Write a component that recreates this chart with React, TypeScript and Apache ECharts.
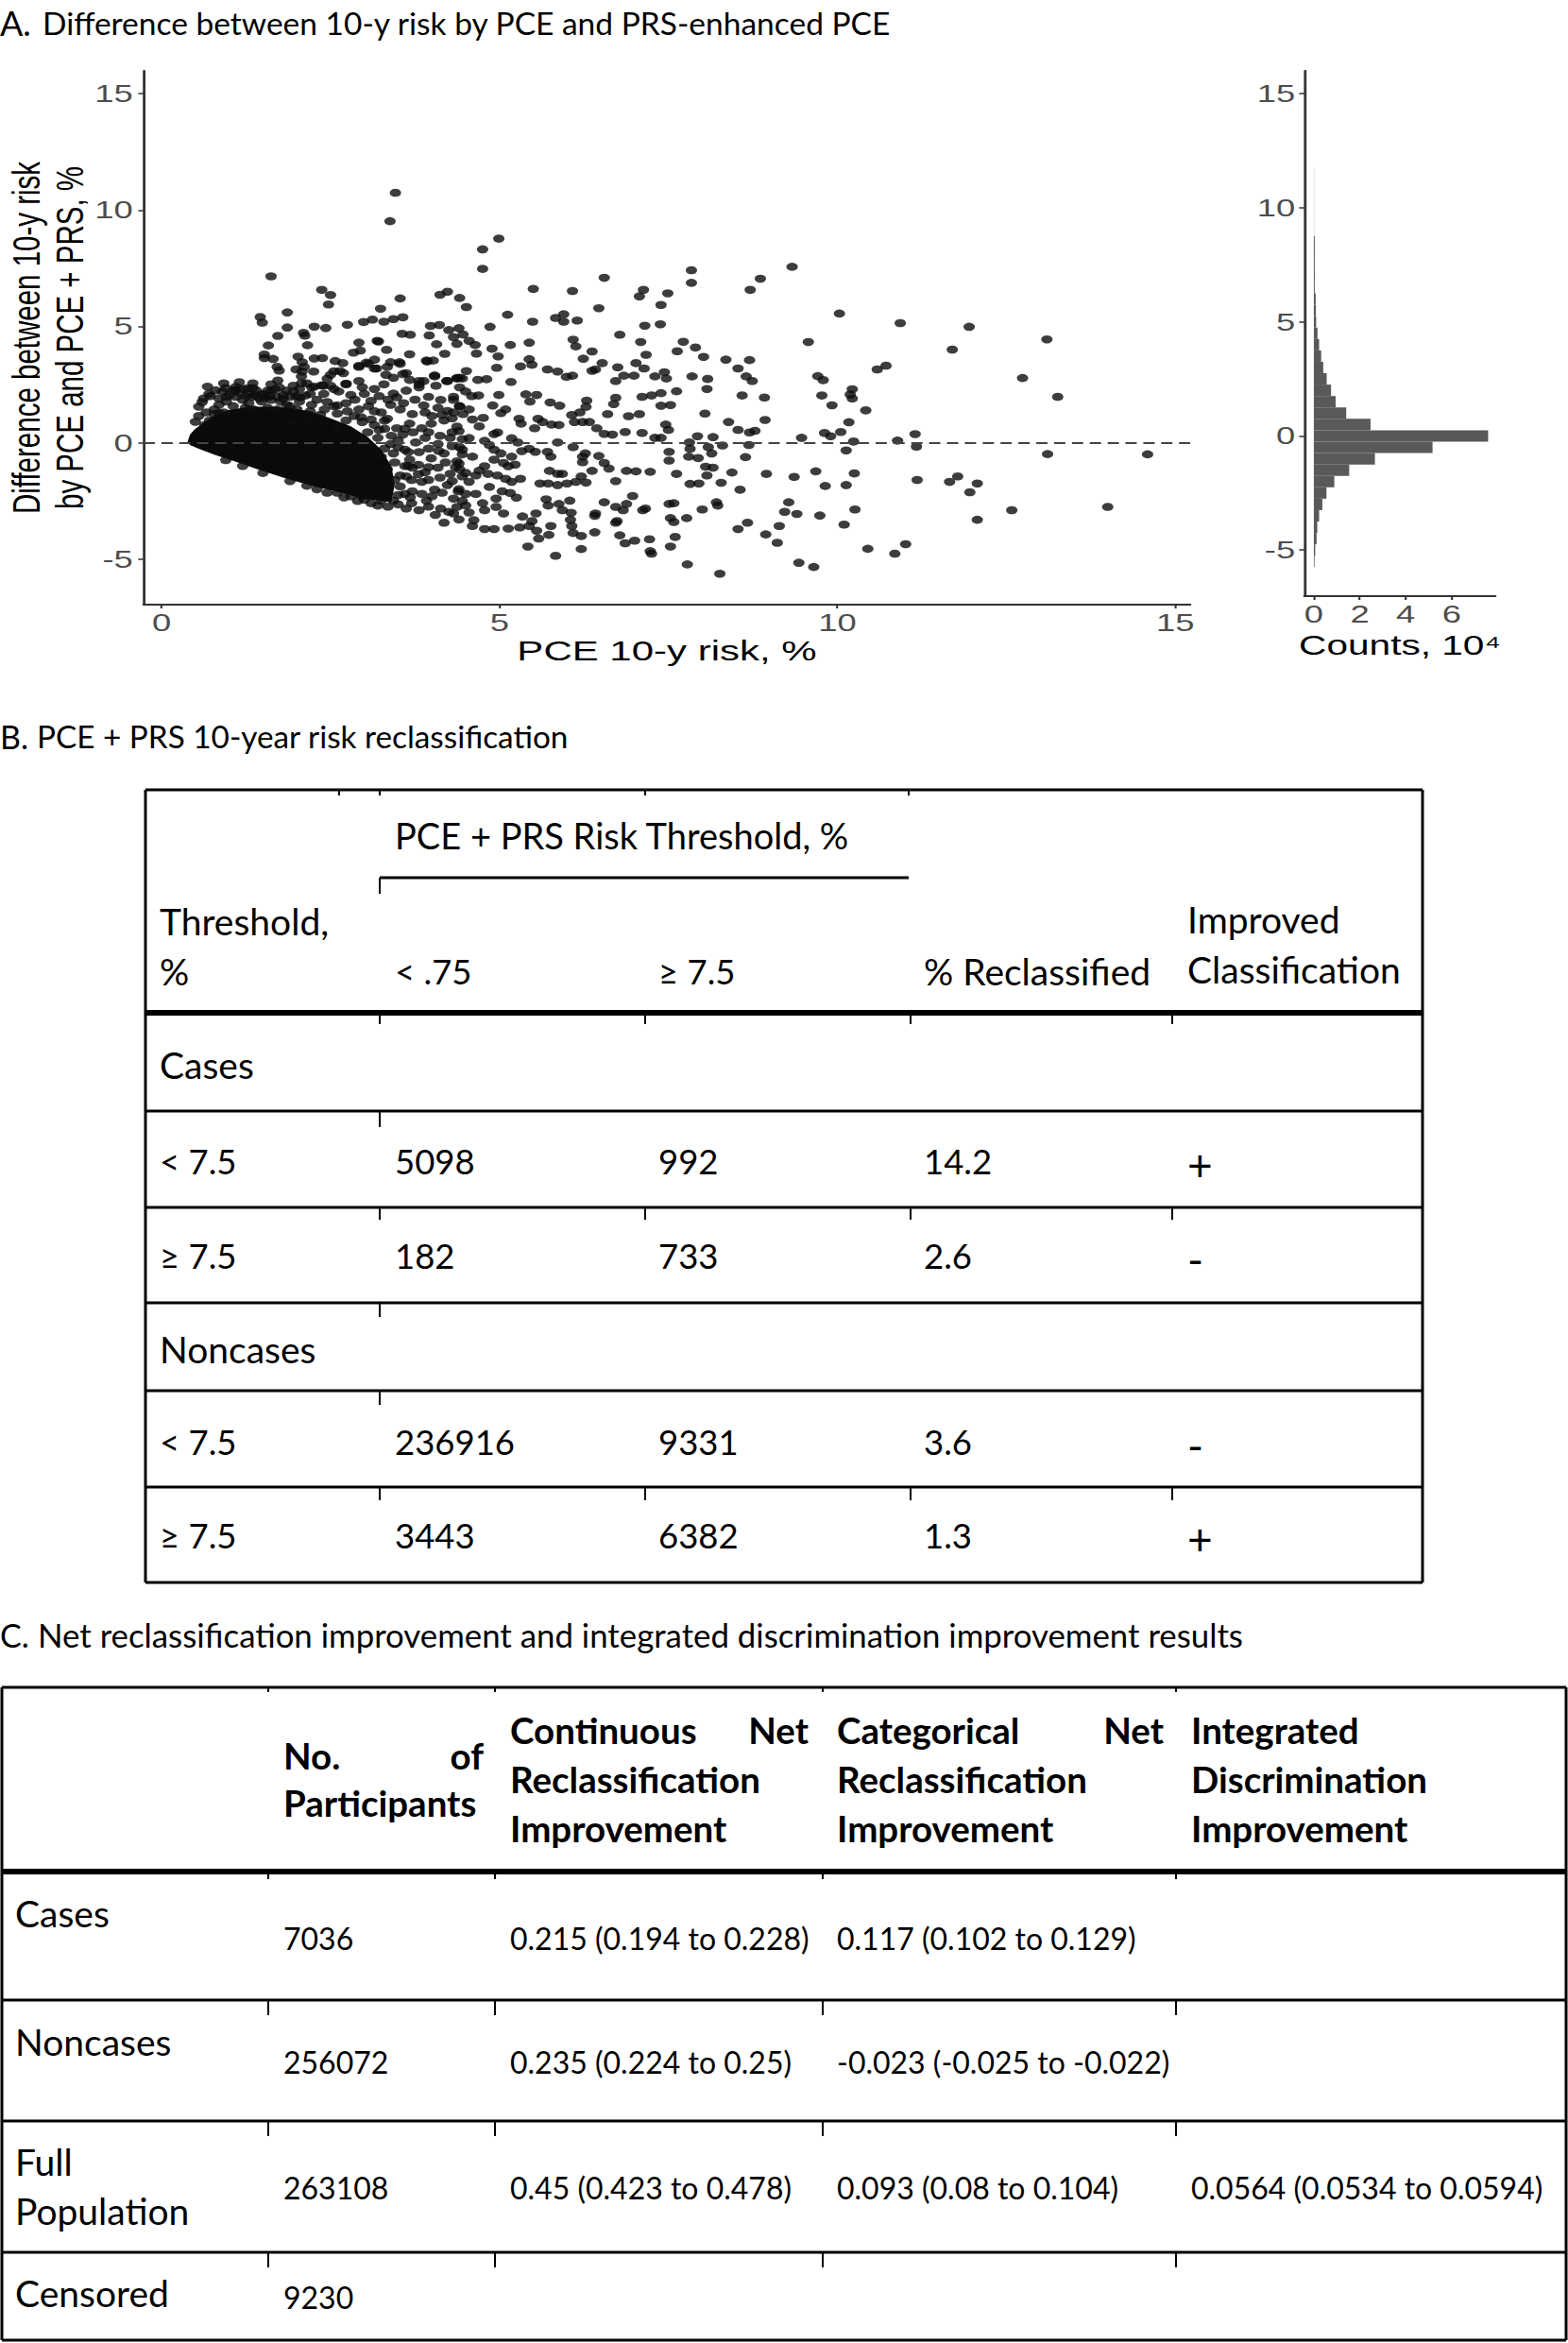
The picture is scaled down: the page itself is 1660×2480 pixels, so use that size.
import React, { useEffect, useRef } from "react";
import * as echarts from "echarts";

// ---------------- Panel A data ----------------
const scatterXTicks = [0, 5, 10, 15];
const scatterYTicks = [-5, 0, 5, 10, 15];
const histXTicks = [0, 2, 4, 6];
const histYTicks = [-5, 0, 5, 10, 15];

// outline of the saturated (fully overlapping) point cloud near the origin
const denseCoreOutline: number[][] = [
  [0.38, 0.0], [0.42, 0.35], [0.5, 0.6], [0.64, 0.9], [0.8, 1.2], [1.0, 1.4], [1.3, 1.55], [1.6, 1.55],
  [1.9, 1.5], [2.2, 1.35], [2.5, 1.05], [2.8, 0.7], [3.05, 0.25], [3.25, -0.3], [3.4, -1.0], [3.45, -1.8],
  [3.4, -2.55], [3.0, -2.42], [2.5, -2.04], [2.27, -1.9], [1.8, -1.5], [1.4, -1.12], [1.1, -0.82], [0.8, -0.53],
  [0.55, -0.26], [0.42, -0.1],
];

const scatterPoints: number[][] = [
  // left part
  [3.46, 10.74], [3.38, 9.52], [1.62, 7.15], [2.37, 6.57], [2.5, 6.35], [2.47, 5.94], [3.53, 6.2], [3.24, 5.76],
  [1.46, 5.4], [1.49, 5.16], [1.86, 5.6], [1.86, 4.95], [1.72, 4.59], [2.26, 4.99], [2.43, 4.93], [2.1, 4.72],
  [2.12, 4.6], [2.16, 4.19], [1.58, 4.18], [2.75, 5.07], [2.99, 5.19], [3.12, 5.29], [3.29, 5.2], [3.43, 5.31],
  [3.57, 5.39], [4.12, 6.36], [4.23, 6.49], [4.41, 6.22], [3.98, 5.02], [4.11, 5.06], [3.56, 4.68], [3.68, 4.64],
  [2.92, 4.3], [3.19, 4.38], [3.21, 4.35], [3.96, 4.61], [4.07, 4.23], [4.25, 4.84], [4.32, 4.54], [4.37, 4.25],
  [1.52, 3.79], [1.52, 3.64], [1.65, 3.6], [1.71, 3.26], [1.74, 3.1], [2.02, 3.7], [2.08, 3.46], [2.11, 3.26],
  [2.26, 3.62], [2.38, 3.64], [2.84, 3.87], [2.94, 3.96], [3.33, 3.99], [3.67, 3.8], [4.19, 3.82], [3.93, 3.49],
  [4.02, 3.53], [2.57, 3.51], [2.68, 3.42], [2.55, 3.07], [2.64, 3.08], [2.92, 3.3], [3.03, 3.44], [3.15, 3.57],
  [3.39, 3.46], [3.52, 3.46], [4.04, 2.89], [4.22, 2.65], [4.37, 2.76], [4.06, 2.45], [2.07, 2.85], [2.07, 2.56],
  [1.72, 2.67], [2.26, 2.41], [2.37, 2.47], [0.68, 2.41], [1.1, 2.27], [1.27, 2.34], [0.85, 1.9], [0.96, 1.97],
  [1.38, 2.04], [1.5, 2.07], [0.78, 1.23], [0.85, 1.27], [1.62, 2.22], [1.74, 2.38], [1.99, 2.0], [2.13, 2.03],
  [2.5, 2.45], [2.73, 2.54], [2.92, 2.65], [3.15, 3.19], [3.32, 2.92], [3.43, 2.79], [3.57, 2.95], [3.67, 2.7],
  [3.81, 2.51], [3.88, 2.65],
  // band just above the saturated cloud
  [0.78, 1.43], [0.85, 1.63], [0.96, 1.77], [1.06, 1.57], [1.1, 1.97], [1.2, 1.84], [1.24, 1.5], [1.29, 1.7],
  [1.34, 1.97], [1.36, 1.43], [1.48, 1.77], [1.48, 2.07], [1.57, 1.5], [1.62, 1.84], [1.71, 1.97], [1.71, 1.43],
  [1.76, 1.77], [1.85, 1.63], [1.85, 2.24], [0.64, 0.76], [0.71, 0.96], [0.92, 1.3], [1.06, 2.24], [1.2, 2.31],
  [1.29, 2.11], [1.57, 2.24], [1.62, 2.51], [1.9, 1.97],
  [0.62, 1.9], [0.7, 2.1], [0.9, 2.2], [1.0, 2.05], [1.15, 2.15], [1.4, 2.25], [1.55, 1.95], [1.8, 2.05],
  [2.0, 1.45], [2.2, 1.35], [2.35, 1.2], [2.6, 1.25], [2.85, 1.15], [3.1, 1.0], [3.3, 0.6], [3.5, 0.1],
  [3.6, -0.3], [3.65, -1.0], [3.7, -1.6], [3.6, -2.2],
  [0.55, 1.55], [0.6, 1.75], [0.72, 2.0], [0.8, 2.25], [0.95, 2.35], [1.1, 2.4], [1.25, 2.0], [1.35, 2.35],
  [1.45, 1.9], [1.6, 2.0], [1.68, 2.3], [1.8, 1.9], [1.95, 2.2], [2.05, 1.95], [2.2, 2.1], [2.3, 1.85],
  [2.45, 1.75], [2.6, 1.6], [2.75, 1.35], [2.95, 1.1], [3.15, 1.35], [3.3, 0.95], [2.4, 2.1], [2.15, 2.55],
  [1.95, 2.45], [1.35, 2.55], [0.92, 2.55], [1.15, 2.6], [0.5, 0.9], [0.55, 1.15], [0.66, 1.3],
  // semi-dense region 2 - 4.5
  [1.99, 3.15], [2.08, 3.06], [2.25, 3.06], [2.5, 2.92], [2.69, 2.99], [2.92, 3.26], [3.06, 3.39], [3.18, 3.19],
  [3.34, 3.26], [3.53, 3.39], [3.62, 2.99], [3.81, 2.65], [3.92, 3.53], [4.04, 2.85], [4.23, 2.65], [4.41, 2.79],
  [2.04, 2.31], [2.22, 2.38], [2.39, 2.45], [2.55, 2.31], [2.73, 2.51], [2.97, 2.38], [3.15, 2.31], [3.29, 2.51],
  [3.43, 2.11], [3.62, 2.24], [3.81, 2.38], [3.95, 1.97], [4.13, 1.84], [4.32, 1.97],
  [1.9, 1.57], [2.04, 1.77], [2.22, 1.63], [2.41, 1.43], [2.55, 1.57], [2.73, 1.7], [2.92, 1.43], [3.06, 1.57],
  [3.25, 1.3], [3.39, 1.63], [3.53, 1.43], [3.71, 1.23], [3.9, 1.3], [4.09, 1.5], [4.23, 1.36], [4.41, 1.57],
  [1.94, 0.89], [2.13, 1.03], [2.36, 0.76], [2.59, 0.62], [2.73, 0.96], [2.97, 0.89], [3.15, 0.76], [3.34, 1.03],
  [3.48, 0.62], [3.67, 0.82], [3.85, 0.62], [3.99, 0.82], [4.18, 0.96], [4.37, 0.69],
  [2.97, 0.08], [3.2, 0.21], [3.39, -0.06], [3.57, 0.35], [3.76, 0.01], [3.9, 0.21], [4.09, -0.06], [4.27, 0.21],
  [4.41, -0.19], [3.25, -0.6], [3.43, -0.46], [3.67, -0.73], [3.81, -0.4], [3.99, -0.67], [4.18, -0.46], [4.37, -0.8],
  [3.34, -1.14], [3.53, -1.41], [3.71, -1.07], [3.9, -1.27], [4.09, -1.07], [4.27, -1.34], [4.41, -1.14],
  [3.53, -1.88], [3.71, -2.09], [3.85, -1.68], [4.04, -2.02], [4.23, -1.82], [4.39, -2.09],
  [2.97, -2.29], [3.25, -2.49], [3.43, -2.49], [3.62, -2.83], [3.81, -2.9], [3.92, -2.49], [4.13, -2.83],
  [4.25, -2.97], [4.37, -2.76], [4.18, -3.44], [4.32, -3.04],
  [2.6, -2.15], [2.8, -2.3], [3.0, -2.45], [3.1, -2.6], [2.3, -2.0],
  [2.45, 2.75], [2.62, 2.2], [2.8, 2.05], [2.86, 1.85], [3.0, 2.1], [3.1, 1.8], [3.22, 2.0], [3.35, 1.85],
  [3.48, 1.95], [3.58, 1.7], [3.75, 1.85], [3.88, 1.6], [4.0, 1.15], [4.15, 1.2], [4.3, 1.05],
  [3.05, 0.45], [3.22, 0.55], [3.4, 0.3], [3.6, 0.6], [3.72, 0.45], [3.95, 0.45], [4.12, 0.3], [4.3, 0.45],
  [4.45, 0.15], [3.3, -0.25], [3.5, -0.2], [3.65, -0.4], [3.95, -0.25], [4.1, -0.35], [4.3, -0.15], [4.45, -0.5],
  [3.45, -0.85], [3.6, -1.0], [3.8, -0.95], [3.95, -1.05], [4.2, -0.85], [4.35, -1.05],
  [3.45, -1.6], [3.62, -1.45], [3.8, -1.35], [3.95, -1.6], [4.12, -1.5], [4.3, -1.65], [4.45, -1.45],
  [3.5, -2.25], [3.68, -2.35], [3.85, -2.2], [4.0, -2.3], [4.15, -2.15], [4.32, -2.4], [4.5, -2.2],
  [3.7, -2.6], [3.95, -2.75], [4.05, -3.1], [4.4, -3.3], [4.5, -2.7],
  [1.5, -1.3], [1.9, -1.65], [2.15, -1.85], [2.45, -2.15], [2.7, -2.35], [2.9, -2.5], [1.2, -1.0], [0.95, -0.75],
  [3.2, -2.7], [3.35, -2.75], [3.5, -2.65],
  // middle part
  [4.99, 8.77], [4.75, 8.31], [4.75, 7.47], [6.55, 7.09], [7.84, 7.41], [7.84, 6.87], [8.86, 7.05], [8.71, 6.57],
  [5.5, 6.61], [6.08, 6.52], [7.13, 6.57], [7.07, 6.29], [7.49, 6.42], [7.39, 5.92], [4.51, 5.83], [5.12, 5.5],
  [6.47, 5.78], [5.83, 5.36], [5.95, 5.52], [5.95, 5.2], [6.15, 5.25], [5.49, 5.2], [4.86, 4.98], [7.15, 5.03],
  [7.38, 5.09], [4.4, 4.92], [6.78, 4.64], [6.09, 4.43], [6.13, 4.14], [7.09, 4.33], [7.72, 4.34], [7.63, 3.93],
  [7.9, 4.09], [8.02, 3.69], [8.35, 3.57], [8.7, 3.55], [4.46, 4.65], [4.55, 4.38], [4.64, 4.2], [4.89, 4.04],
  [4.98, 3.71], [5.16, 4.2], [5.44, 4.3], [4.66, 3.83], [6.24, 3.61], [6.37, 3.92], [6.52, 3.42], [7.17, 3.78],
  [7.02, 3.42], [7.14, 3.19], [6.75, 3.24], [6.37, 3.09], [6.42, 3.15], [5.31, 3.28], [5.44, 3.59], [5.48, 3.35],
  [5.71, 3.15], [5.86, 3.06], [5.99, 2.83], [6.08, 2.88], [4.96, 3.22], [4.51, 3.08], [4.37, 2.78], [4.45, 2.76],
  [4.68, 2.7], [4.81, 2.73], [5.17, 2.61], [6.72, 2.65], [6.84, 2.88], [6.99, 2.88], [7.3, 2.85], [7.44, 3.03],
  [7.47, 2.76], [7.85, 2.85], [8.08, 2.74], [8.07, 2.31], [8.53, 3.19], [8.65, 2.85], [8.74, 2.65], [4.41, 2.38],
  [4.5, 2.2], [4.59, 2.0], [4.69, 2.03], [4.99, 2.05], [5.39, 2.08], [5.55, 2.05], [5.45, 1.77], [5.75, 1.73],
  [5.89, 1.59], [6.29, 1.81], [6.28, 1.54], [6.72, 1.93], [6.69, 1.66], [7.11, 1.97], [7.25, 2.03], [7.39, 2.13],
  [7.62, 2.21], [7.39, 1.59], [7.53, 1.62], [8.59, 2.03], [8.92, 1.94], [4.32, 1.84], [4.41, 1.56], [4.32, 1.3],
  [4.46, 1.23], [4.55, 1.43], [5.02, 1.27], [5.09, 1.43], [4.76, 1.07], [5.29, 1.03], [5.32, 0.82], [5.57, 1.03],
  [5.52, 0.62], [5.64, 0.89], [5.77, 0.78], [5.88, 0.76], [6.07, 1.19], [6.19, 1.3], [6.11, 0.89], [6.23, 0.89],
  [6.33, 0.89], [6.44, 0.62], [6.6, 1.23], [6.91, 1.14], [7.07, 1.23], [6.55, 0.38], [6.67, 0.35], [6.86, 0.46],
  [7.11, 0.42], [7.46, 0.78], [7.5, 0.55], [7.3, 0.21], [7.39, 0.21], [8.04, 1.25], [8.39, 0.89], [8.53, 0.55],
  [8.7, 0.44], [8.78, 0.51], [8.93, 0.98], [7.93, 0.28], [8.16, 0.24], [8.3, -0.12], [8.69, -0.1], [7.81, 0.01],
  [7.82, -0.26], [7.8, -0.6], [7.94, -0.66], [8.09, -0.19], [8.14, -0.46], [7.51, -0.39], [7.51, -0.77],
  [8.05, -1.03], [8.16, -1.07], [8.07, -1.41], [8.64, -0.62], [8.44, -1.28], [7.62, -1.34], [6.88, -1.21],
  [7.02, -1.23], [7.23, -1.25], [6.72, -1.65], [7.82, -1.77], [7.95, -1.75], [8.28, -1.72], [8.56, -2.02],
  [8.95, -1.34], [4.78, 0.08], [4.92, 0.37], [4.97, 0.44], [5.18, 0.19], [5.27, 0.01], [5.44, -0.26], [5.53, -0.39],
  [5.71, -0.39], [5.76, -0.6], [5.33, -0.36], [5.18, -0.6], [5.23, -0.94], [5.86, 0.01], [6.09, -0.19],
  [6.27, -0.46], [6.47, -0.57], [6.55, -0.87], [6.62, -1.11], [6.23, -0.6], [6.23, -0.84], [5.74, -1.21],
  [5.86, -1.34], [5.93, -1.34], [6.37, -1.21], [6.21, -1.45], [4.92, -0.3], [5.02, -0.46], [4.92, -0.73],
  [5.06, -0.87], [5.13, -1.01], [4.78, -1.01], [4.83, -1.34], [4.65, -1.41], [4.55, -1.68], [4.97, -1.41],
  [5.09, -1.55], [5.18, -1.68], [5.31, -1.55], [5.6, -1.75], [5.72, -1.75], [5.86, -1.82], [6.0, -1.75],
  [6.13, -1.68], [6.28, -1.71], [5.04, -2.09], [5.16, -2.16], [5.25, -2.36], [5.69, -2.43], [5.72, -2.7],
  [5.88, -2.63], [6.04, -2.49], [6.55, -2.56], [6.72, -2.76], [6.88, -2.63], [6.83, -2.9], [6.97, -2.29],
  [7.12, -2.9], [7.16, -2.83], [6.42, -3.04], [6.41, -3.14], [5.93, -2.9], [6.06, -3.01], [7.51, -2.63],
  [7.58, -2.6], [8.21, -2.56], [8.23, -2.7], [8.0, -2.87], [7.53, -3.24], [7.58, -3.41], [7.77, -3.24],
  [6.74, -3.37], [6.72, -3.44], [6.05, -3.31], [6.07, -3.58], [5.48, -3.37], [5.44, -3.58], [5.76, -3.58],
  [5.3, -3.64], [5.13, -3.69], [4.92, -3.71], [4.78, -3.71], [4.6, -3.58], [4.62, -3.33], [4.78, -2.9],
  [4.95, -2.76], [5.06, -3.04], [5.34, -3.17], [5.54, -3.04], [5.55, -3.78], [5.58, -4.12], [5.73, -3.96],
  [6.09, -3.88], [6.21, -4.01], [6.41, -3.85], [6.78, -3.98], [6.86, -4.32], [7.0, -4.21], [7.22, -4.15],
  [7.23, -4.66], [7.25, -4.77], [7.6, -4.05], [7.53, -4.46], [6.21, -4.57], [5.42, -4.46], [5.83, -4.86],
  [7.78, -5.23], [8.26, -5.63], [8.53, -3.71], [8.67, -3.44], [8.94, -3.94],
  [4.4, 0.5], [4.55, 0.2], [4.45, -0.3], [4.6, -0.6], [4.4, -0.9], [4.7, -1.2], [4.5, -1.3], [4.4, -2.0],
  [4.65, -2.2], [4.45, -2.5], [4.75, -2.6], [4.55, -3.0], [4.85, -0.1], [4.7, 0.7], [4.9, 1.6], [4.6, 1.0],
  [4.85, -1.9], [4.95, -2.4],
  // right part
  [9.33, 7.56], [10.03, 5.55], [10.93, 5.14], [11.95, 4.98], [13.1, 4.44], [9.57, 4.33], [11.7, 4.0],
  [10.59, 3.15], [10.72, 3.31], [9.71, 2.86], [9.79, 2.69], [9.77, 2.03], [9.92, 1.61], [10.22, 2.3],
  [10.19, 2.07], [10.22, 1.9], [10.42, 1.39], [10.17, 0.88], [12.74, 2.78], [13.26, 1.97], [9.81, 0.42],
  [9.9, 0.28], [10.05, 0.46], [9.47, 0.21], [10.24, 0.05], [10.13, -0.33], [10.89, 0.09], [11.15, 0.37],
  [11.17, -0.17], [13.11, -0.49], [9.36, -1.47], [9.68, -1.23], [9.82, -1.86], [10.13, -1.82], [10.25, -1.32],
  [11.18, -1.6], [11.66, -1.68], [11.78, -1.45], [11.96, -2.13], [12.07, -1.75], [9.28, -2.56], [9.22, -2.97],
  [9.4, -3.06], [9.74, -3.13], [10.26, -2.87], [10.1, -3.52], [9.14, -3.58], [9.11, -4.3], [12.07, -3.31],
  [12.58, -2.9], [9.43, -5.16], [9.65, -5.34], [10.45, -4.56], [10.85, -4.77], [11.01, -4.36],
  [14.59, -0.5], [14.0, -2.76],
];

// histogram of the difference (bin centres, counts in units of 10^4)
const histBinWidth = 0.5;
const histBinCenters = [
  -5.5, -5.0, -4.5, -4.0, -3.5, -3.0, -2.5, -2.0, -1.5, -1.0, -0.5, 0.0, 0.5, 1.0, 1.5, 2.0, 2.5, 3.0, 3.5,
  4.0, 4.5, 5.0, 5.5, 6.0, 6.5, 7.0, 7.5, 8.0, 8.5, 9.0, 9.5, 10.0, 10.5, 11.0, 11.5,
];
const histCounts = [
  0.03, 0.06, 0.12, 0.15, 0.23, 0.37, 0.55, 0.89, 1.54, 2.66, 5.17, 7.59, 2.47, 1.41, 0.95, 0.75, 0.56, 0.41,
  0.32, 0.23, 0.16, 0.1, 0.09, 0.08, 0.04, 0.04, 0.04, 0.04, 0.04, 0.01, 0.01, 0.01, 0.01, 0.01, 0.01,
];

// ---------------- Titles ----------------
const titleA = ["A.", "Difference between 10-y risk by PCE and PRS-enhanced PCE"];
const titleB = ["B.", "PCE + PRS 10-year risk reclassification"];
const titleC = ["C.", "Net reclassification improvement and integrated discrimination improvement results"];

// ---------------- Table B ----------------
const tableBGroupHeader = "PCE + PRS Risk Threshold, %";
const tableBColumnHeaders = ["Threshold,\n%", "< .75", "≥ 7.5", "% Reclassified", "Improved\nClassification"];
const tableBSections = ["Cases", "Noncases"];
const tableBRowLabels = ["< 7.5", "≥ 7.5", "< 7.5", "≥ 7.5"];
const tableBLow = ["5098", "182", "236916", "3443"];
const tableBHigh = ["992", "733", "9331", "6382"];
const tableBPct = ["14.2", "2.6", "3.6", "1.3"];
const tableBImproved = ["+", "-", "-", "+"];

// ---------------- Table C ----------------
const tableCRowLabels = ["Cases", "Noncases", "Full\nPopulation", "Censored"];
const tableCN = ["7036", "256072", "263108", "9230"];
const tableCContNRI = ["0.215 (0.194 to 0.228)", "0.235 (0.224 to 0.25)", "0.45 (0.423 to 0.478)", ""];
const tableCCatNRI = ["0.117 (0.102 to 0.129)", "-0.023 (-0.025 to -0.022)", "0.093 (0.08 to 0.104)", ""];
const tableCIDI = ["", "", "0.0564 (0.0534 to 0.0594)", ""];

// ---------------- layout / style ----------------
const STRETCH = 1.4;
const AXIS_FONT = "Liberation Sans";
const TABLE_FONT = "Lato";

function txt(x: number, y: number, text: string, size: number, opts: any = {}) {
  const align = opts.align || "left";
  return {
    type: "text",
    x,
    y,
    silent: true,
    style: {
      text,
      fontSize: size,
      fontFamily: TABLE_FONT,
      fontWeight: opts.bold ? "bold" : "normal",
      fill: "#000",
      align,
      textAlign: align,
      verticalAlign: "middle",
      textVerticalAlign: "middle",
    },
  };
}

function multi(x: number, y: number, text: string, size: number, lh: number, opts: any = {}) {
  return text.split("\n").map((t, i) => txt(x, y + i * lh, t, size, opts));
}

function hline(x1: number, x2: number, y: number, w: number) {
  return { type: "line", silent: true, shape: { x1, y1: y, x2, y2: y }, style: { stroke: "#000", lineWidth: w } };
}
function vline(x: number, y1: number, y2: number, w: number) {
  return { type: "line", silent: true, shape: { x1: x, y1, x2: x, y2 }, style: { stroke: "#000", lineWidth: w } };
}

function buildPageElements() {
  const els: any[] = [];
  // titles
  els.push(txt(0, 24, titleA[0], 36));
  els.push(txt(45, 24, titleA[1], 33.5));
  els.push(txt(0, 779, titleB[0], 34));
  els.push(txt(39, 779, titleB[1], 33.3));
  els.push(txt(0, 1730, titleC[0], 34));
  els.push(txt(40, 1730, titleC[1], 34.8));

  // ---- Table B ----
  const bL = 154, bR = 1506, bT = 836, bB = 1675;
  const bLines = [1176, 1278, 1379, 1472, 1574];
  els.push(hline(bL, bR, bT, 3));
  els.push(hline(bL, bR, bB, 3));
  els.push(vline(bL, bT, bB, 3));
  els.push(vline(bR, bT, bB, 3));
  els.push(hline(bL, bR, 1072, 6));
  bLines.forEach((y) => els.push(hline(bL, bR, y, 3)));
  els.push(hline(402, 962, 929, 3));
  els.push(vline(402, 929, 946, 2));
  const bCols = [402, 683, 964, 1241];
  [359, 402, 683, 962].forEach((x) => els.push(vline(x, bT, bT + 6, 2)));
  bCols.forEach((x) => els.push(vline(x, 1075, 1084, 2)));
  els.push(vline(402, 1176, 1193, 2));
  bCols.forEach((x) => els.push(vline(x, 1278, 1291, 2)));
  els.push(vline(402, 1379, 1394, 2));
  els.push(vline(402, 1472, 1487, 2));
  bCols.forEach((x) => els.push(vline(x, 1574, 1588, 2)));

  const bx = [169, 418, 697, 978, 1257];
  const fsB = 39; // words
  const fsN = 36.5; // numbers
  els.push(txt(bx[1], 884, tableBGroupHeader, 38));
  els.push(...multi(bx[0], 975, tableBColumnHeaders[0], fsB, 53));
  els.push(txt(bx[1], 1028, tableBColumnHeaders[1], fsN));
  els.push(txt(bx[2], 1028, tableBColumnHeaders[2], fsN));
  els.push(txt(bx[3], 1028, tableBColumnHeaders[3], fsB));
  els.push(...multi(bx[4], 973, tableBColumnHeaders[4], fsB, 53));
  els.push(txt(bx[0], 1127, tableBSections[0], fsB));
  els.push(txt(bx[0], 1428, tableBSections[1], fsB));
  const rowY = [1229, 1329, 1526, 1625];
  rowY.forEach((y, i) => {
    els.push(txt(bx[0], y, tableBRowLabels[i], fsN));
    els.push(txt(bx[1], y, tableBLow[i], fsN));
    els.push(txt(bx[2], y, tableBHigh[i], fsN));
    els.push(txt(bx[3], y, tableBPct[i], fsN));
    els.push(txt(bx[4], y + 3, tableBImproved[i], 46));
  });

  // ---- Table C ----
  const cL = 2, cR = 1658, cT = 1786, cB = 2477;
  els.push(hline(cL, cR, cT, 3));
  els.push(hline(cL, cR, cB, 3));
  els.push(vline(cL, cT, cB, 3));
  els.push(vline(cR, cT, cB, 3));
  els.push(hline(cL, cR, 1981, 6));
  [2117, 2245, 2384].forEach((y) => els.push(hline(cL, cR, y, 3)));
  const cCols = [284, 524, 871, 1245];
  cCols.forEach((x) => els.push(vline(x, cT, cT + 5, 2)));
  cCols.forEach((x) => els.push(vline(x, 1984, 1989, 2)));
  [2117, 2245, 2384].forEach((y) => cCols.forEach((x) => els.push(vline(x, y, y + 16, 2))));

  const cx = [16, 300, 540, 886, 1261];
  const fsH = 38.5, fsL = 39, fsV = 32;
  els.push(txt(cx[1], 1858, "No.", fsH, { bold: true }));
  els.push(txt(512, 1858, "of", fsH, { bold: true, align: "right" }));
  els.push(txt(cx[1], 1908, "Participants", fsH, { bold: true }));
  els.push(txt(cx[2], 1831, "Continuous", fsH, { bold: true }));
  els.push(txt(856, 1831, "Net", fsH, { bold: true, align: "right" }));
  els.push(txt(cx[2], 1883, "Reclassification", fsH, { bold: true }));
  els.push(txt(cx[2], 1935, "Improvement", fsH, { bold: true }));
  els.push(txt(cx[3], 1831, "Categorical", fsH, { bold: true }));
  els.push(txt(1232, 1831, "Net", fsH, { bold: true, align: "right" }));
  els.push(txt(cx[3], 1883, "Reclassification", fsH, { bold: true }));
  els.push(txt(cx[3], 1935, "Improvement", fsH, { bold: true }));
  els.push(txt(cx[4], 1831, "Integrated", fsH, { bold: true }));
  els.push(txt(cx[4], 1883, "Discrimination", fsH, { bold: true }));
  els.push(txt(cx[4], 1935, "Improvement", fsH, { bold: true }));

  const labelY = [2025, 2161, 2288, 2427];
  const valY = [2051, 2182, 2315, 2431];
  tableCRowLabels.forEach((lab, i) => {
    els.push(...multi(cx[0], labelY[i], lab, fsL, 52));
    els.push(txt(cx[1], valY[i], tableCN[i], fsV));
    if (tableCContNRI[i]) els.push(txt(cx[2], valY[i], tableCContNRI[i], fsV));
    if (tableCCatNRI[i]) els.push(txt(cx[3], valY[i], tableCCatNRI[i], fsV));
    if (tableCIDI[i]) els.push(txt(cx[4], valY[i], tableCIDI[i], fsV));
  });
  return els;
}

const TICK = { show: true, length: 4, lineStyle: { color: "#333", width: 1.5 } };

function buildPanelAOption() {
  const labelStyle = { color: "#4d4d4d", fontFamily: AXIS_FONT, fontSize: 26 };
  const axisLine = { show: true, onZero: false, lineStyle: { color: "#333", width: 2 } };
  return {
    animation: false,
    backgroundColor: "transparent",
    grid: [
      { left: 108.6, top: 75, width: 791.4, height: 565, containLabel: false, outerBoundsMode: "none" },
      { left: 986.4, top: 75, width: 144.3, height: 556, containLabel: false, outerBoundsMode: "none" },
    ],
    xAxis: [
      {
        type: "value",
        gridIndex: 0,
        min: -0.266,
        max: 15.22,
        axisLine,
        splitLine: { show: false },
        axisTick: { ...TICK, customValues: scatterXTicks },
        axisLabel: { ...labelStyle, margin: 6, customValues: scatterXTicks },
        name: "PCE 10-y risk, %",
        nameLocation: "middle",
        nameGap: 34,
        nameMoveOverlap: false,
        nameTextStyle: { fontFamily: AXIS_FONT, fontSize: 30, color: "#000" },
      },
      {
        type: "value",
        gridIndex: 1,
        min: -0.41,
        max: 7.9,
        axisLine,
        splitLine: { show: false },
        axisTick: { ...TICK, customValues: histXTicks },
        axisLabel: { ...labelStyle, margin: 6, customValues: histXTicks },
        name: "Counts, 10⁴",
        nameLocation: "middle",
        nameGap: 37,
        nameMoveOverlap: false,
        nameTextStyle: { fontFamily: AXIS_FONT, fontSize: 29, color: "#000" },
      },
    ],
    yAxis: [
      {
        type: "value",
        gridIndex: 0,
        min: -6.96,
        max: 15.98,
        axisLine,
        splitLine: { show: false },
        axisTick: { ...TICK, customValues: scatterYTicks },
        axisLabel: { ...labelStyle, margin: 8, customValues: scatterYTicks },
        name: "Difference between 10-y risk\nby PCE and PCE + PRS, %",
        nameLocation: "middle",
        nameRotate: 90,
        nameGap: 39,
        nameMoveOverlap: false,
        nameTextStyle: { fontFamily: AXIS_FONT, fontSize: 29.5, lineHeight: 33, color: "#000" },
      },
      {
        type: "value",
        gridIndex: 1,
        min: -7.02,
        max: 16.0,
        axisLine,
        splitLine: { show: false },
        axisTick: { ...TICK, customValues: histYTicks },
        axisLabel: { ...labelStyle, margin: 7, customValues: histYTicks },
      },
    ],
    series: [
      {
        type: "custom",
        xAxisIndex: 0,
        yAxisIndex: 0,
        silent: true,
        z: 1,
        data: [denseCoreOutline[0]],
        renderItem: (_params: any, api: any) => ({
          type: "polygon",
          shape: { points: denseCoreOutline.map((p) => api.coord(p)) },
          style: { fill: "#0a0a0a" },
        }),
      },
      {
        type: "scatter",
        xAxisIndex: 0,
        yAxisIndex: 0,
        z: 2,
        symbol: "circle",
        symbolSize: 8.6,
        itemStyle: { color: "#0d0d0d" },
        data: scatterPoints,
        markLine: {
          silent: true,
          symbol: "none",
          label: { show: false },
          lineStyle: { type: [8.5, 5], color: "#444", width: 2 },
          data: [{ yAxis: 0 }],
        },
      },
      {
        type: "custom",
        xAxisIndex: 1,
        yAxisIndex: 1,
        silent: true,
        encode: { x: 0, y: 1 },
        data: histBinCenters.map((c, i) => [histCounts[i], c]),
        renderItem: (_params: any, api: any) => {
          const count = api.value(0);
          const c = api.value(1);
          const a = api.coord([0, c + histBinWidth / 2]);
          const b = api.coord([count, c - histBinWidth / 2]);
          return {
            type: "rect",
            shape: { x: a[0], y: a[1], width: Math.max(b[0] - a[0], 0.3), height: b[1] - a[1] },
            style: { fill: count < 0.02 ? "#bdbdbd" : "#595959" },
          };
        },
      },
    ],
  };
}

export default function App() {
  const refA = useRef<HTMLDivElement>(null);
  const refP = useRef<HTMLDivElement>(null);
  useEffect(() => {
    const chartP = echarts.init(refP.current!, null, { renderer: "svg" });
    chartP.setOption({ animation: false, backgroundColor: "transparent", graphic: { elements: buildPageElements() } });
    const chartA = echarts.init(refA.current!, null, { renderer: "svg" });
    chartA.setOption(buildPanelAOption() as any);
    return () => {
      chartA.dispose();
      chartP.dispose();
    };
  }, []);
  return (
    <div style={{ position: "absolute", left: 0, top: 0, width: 1660, height: 2480, background: "#fff" }}>
      <div ref={refP} style={{ position: "absolute", left: 0, top: 0, width: 1660, height: 2480 }} />
      <div
        ref={refA}
        style={{
          position: "absolute",
          left: 0,
          top: 0,
          width: 1186,
          height: 720,
          transform: `scaleX(${STRETCH})`,
          transformOrigin: "0 0",
        }}
      />
    </div>
  );
}
